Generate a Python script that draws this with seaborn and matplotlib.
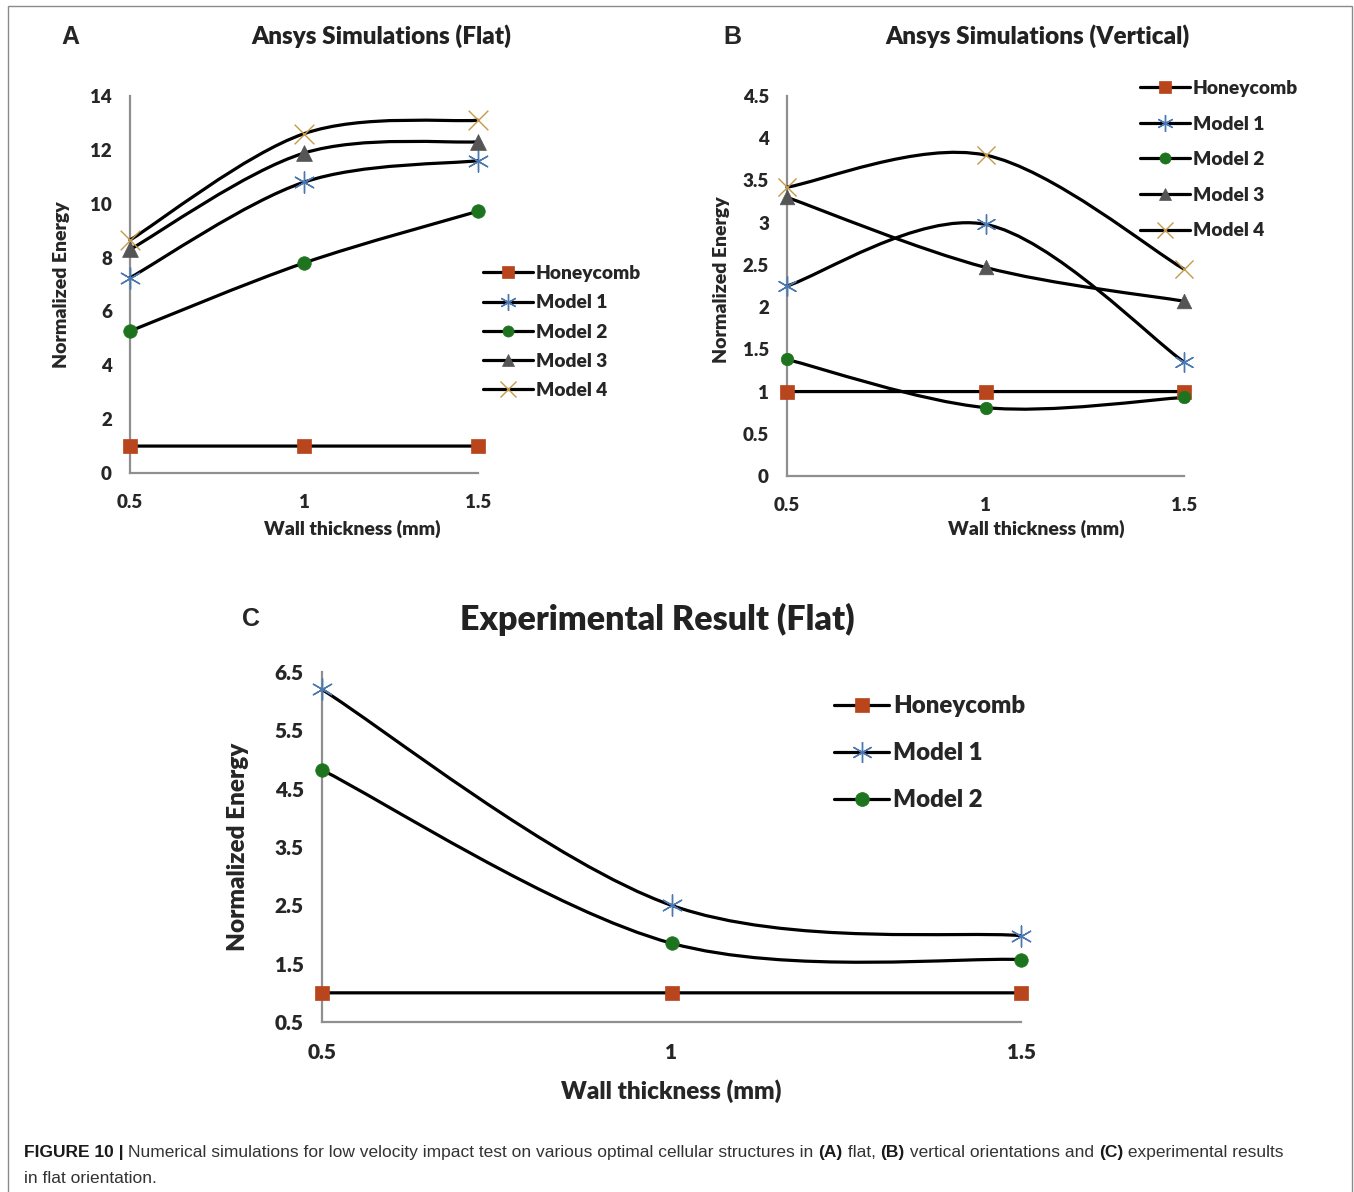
import numpy as np
import matplotlib
matplotlib.use("Agg")
import matplotlib.pyplot as plt
import seaborn as sns
from matplotlib.path import Path
from matplotlib.patches import PathPatch, Rectangle
from matplotlib.lines import Line2D

sns.set_theme(style="white")
plt.rcParams['font.family'] = ['Lato', 'DejaVu Sans']

# --- data ---
thickness = [0.5, 1.0, 1.5]
thickness_labels = ['0.5', '1', '1.5']

flat_honeycomb = [1.0, 1.0, 1.0]
flat_model1 = [7.25, 10.8, 11.6]
flat_model2 = [5.27, 7.8, 9.72]
flat_model3 = [8.3, 11.88, 12.3]
flat_model4 = [8.65, 12.6, 13.1]

vert_honeycomb = [1.0, 1.0, 1.0]
vert_model1 = [2.25, 2.98, 1.35]
vert_model2 = [1.38, 0.81, 0.93]
vert_model3 = [3.3, 2.47, 2.07]
vert_model4 = [3.42, 3.8, 2.45]

exp_honeycomb = [1.0, 1.0, 1.0]
exp_model1 = [6.2, 2.5, 1.98]
exp_model2 = [4.82, 1.85, 1.57]

flat_yticks = [0, 2, 4, 6, 8, 10, 12, 14]
vert_yticks = [0, 0.5, 1, 1.5, 2, 2.5, 3, 3.5, 4, 4.5]
vert_ylabels = ['0', '0.5', '1', '1.5', '2', '2.5', '3', '3.5', '4', '4.5']
exp_yticks = [0.5, 1.5, 2.5, 3.5, 4.5, 5.5, 6.5]

BOLD = 'heavy'

# series look: name -> (marker, color, size, filled)
STYLE = {
    'Honeycomb': ('s', '#B8451C', 115, True),
    'Model 1': ((6, 2, 0), '#4A78B0', 230, False),
    'Model 2': ('o', '#1E741E', 95, True),
    'Model 3': ('^', '#555555', 130, True),
    'Model 4': ('x', '#C49A4A', 200, False),
}


def smooth_path(xs, ys):
    # excel style smoothed line (bezier, catmull-rom tangents)
    pts = np.column_stack([xs, ys]).astype(float)
    n = len(pts)
    verts = [pts[0]]
    codes = [Path.MOVETO]
    for i in range(n - 1):
        p0 = pts[i - 1] if i > 0 else pts[i]
        p1, p2 = pts[i], pts[i + 1]
        p3 = pts[i + 2] if i + 2 < n else pts[i + 1]
        verts += [p1 + (p2 - p0) / 6, p2 - (p3 - p1) / 6, p2]
        codes += [Path.CURVE4] * 3
    return Path(verts, codes)


def draw_panel(ax, series, yticks, ylabels, tick_fs, lab_fs, xlab_xy, ylab_xy, msize=1.0, lw=2.3):
    for name, ys in series:
        ax.add_patch(PathPatch(smooth_path(thickness, ys), facecolor='none',
                               edgecolor='black', lw=lw, capstyle='round', zorder=3, clip_on=False))
    for name, ys in series:
        m, c, s, filled = STYLE[name]
        if filled:
            sns.scatterplot(x=thickness, y=ys, ax=ax, marker=m, color=c, s=s * msize,
                            edgecolor=c, linewidth=0.5, zorder=4, clip_on=False)
        else:
            sns.scatterplot(x=thickness, y=ys, ax=ax, marker=m, color=c, s=s * msize,
                            linewidth=1.0, zorder=4, clip_on=False)
    ax.set_xlim(0.5, 1.5)
    ax.set_ylim(yticks[0], yticks[-1])
    ax.set_xticks(thickness)
    ax.set_xticklabels(thickness_labels, fontsize=tick_fs, fontweight=BOLD)
    ax.set_yticks(yticks)
    ax.set_yticklabels(ylabels, fontsize=tick_fs, fontweight=BOLD)
    ax.tick_params(axis='both', length=0)
    ax.tick_params(axis='y', pad=13)
    ax.tick_params(axis='x', pad=15)
    for side in ['top', 'right']:
        ax.spines[side].set_visible(False)
    for side in ['left', 'bottom']:
        ax.spines[side].set_color('#8f8f8f')
        ax.spines[side].set_linewidth(1.6)
    ax.set_xlabel('Wall thickness (mm)', fontsize=lab_fs, fontweight=BOLD)
    ax.set_ylabel('Normalized Energy', fontsize=lab_fs, fontweight=BOLD)
    ax.xaxis.set_label_coords(*xlab_xy)
    ax.yaxis.set_label_coords(*ylab_xy)
    ax.set_facecolor('white')


def add_legend(fig, names, anchor, fs, spacing, hlen, msize):
    handles = []
    for name in names:
        m, c, s, filled = STYLE[name]
        ms = msize * 1.5 if name in ('Model 1', 'Model 4') else msize
        handles.append(Line2D([], [], color='black', lw=2.3, marker=m, markersize=ms,
                              markerfacecolor=c, markeredgecolor=c,
                              markeredgewidth=1.0 if not filled else 0.5))
    fig.legend(handles, names, loc='upper left', bbox_to_anchor=anchor,
               bbox_transform=fig.transFigure, frameon=False, borderpad=0, borderaxespad=0,
               handlelength=hlen, handletextpad=0.15, labelspacing=spacing,
               prop={'family': 'Lato', 'weight': BOLD, 'size': fs})


W, H = 1354, 1192
fig = plt.figure(figsize=(W / 100, H / 100), dpi=100)
fig.patch.set_facecolor('white')

# outer frame
fig.add_artist(Rectangle((8 / W, -0.05), 1344 / W, 1.05 - 6 / H, transform=fig.transFigure,
                         fill=False, edgecolor='#8a8a8a', lw=1.0))

# --- A ---
axA = fig.add_axes([130 / W, 1 - 473 / H, 348 / W, 377 / H])
draw_panel(axA, [('Honeycomb', flat_honeycomb), ('Model 1', flat_model1), ('Model 2', flat_model2),
                 ('Model 3', flat_model3), ('Model 4', flat_model4)],
           flat_yticks, [str(v) for v in flat_yticks], 13.5, 14, (0.638, -0.125), (-0.172, 0.5))
add_legend(fig, ['Honeycomb', 'Model 1', 'Model 2', 'Model 3', 'Model 4'],
           (483 / W, 1 - 265 / H), 13.8, 0.64, 2.6, 8)
fig.text(381 / W, 1 - 36 / H, 'Ansys Simulations (Flat)', ha='center', va='center',
         fontsize=17.5, fontweight=BOLD, color='#222222')
fig.text(70 / W, 1 - 37 / H, 'A', ha='center', va='center', fontsize=18,
         fontweight='bold', family='Liberation Sans')

# --- B ---
axB = fig.add_axes([787 / W, 1 - 476 / H, 397 / W, 380 / H])
draw_panel(axB, [('Honeycomb', vert_honeycomb), ('Model 1', vert_model1), ('Model 2', vert_model2),
                 ('Model 3', vert_model3), ('Model 4', vert_model4)],
           vert_yticks, vert_ylabels, 13.5, 14, (0.627, -0.115), (-0.144, 0.518), msize=0.85)
add_legend(fig, ['Honeycomb', 'Model 1', 'Model 2', 'Model 3', 'Model 4'],
           (1140 / W, 1 - 80 / H), 13.8, 0.97, 2.6, 8)
fig.text(1037 / W, 1 - 36 / H, 'Ansys Simulations (Vertical)', ha='center', va='center',
         fontsize=17.5, fontweight=BOLD, color='#222222')
fig.text(732 / W, 1 - 37 / H, 'B', ha='center', va='center', fontsize=18,
         fontweight='bold', family='Liberation Sans')

# --- C ---
axC = fig.add_axes([322 / W, 1 - 1022 / H, 699 / W, 350 / H])
draw_panel(axC, [('Honeycomb', exp_honeycomb), ('Model 1', exp_model1), ('Model 2', exp_model2)],
           exp_yticks, [str(v) for v in exp_yticks], 15, 17.5, (0.5, -0.163), (-0.104, 0.5))
add_legend(fig, ['Honeycomb', 'Model 1', 'Model 2'],
           (834 / W, 1 - 695 / H), 17.3, 1.05, 2.3, 10)
fig.text(657 / W, 1 - 619 / H, 'Experimental Result (Flat)', ha='center', va='center',
         fontsize=24.5, fontweight=BOLD, color='#222222')
fig.text(251 / W, 1 - 619 / H, 'C', ha='center', va='center', fontsize=18,
         fontweight='bold', family='Liberation Sans')

# --- caption (runs of bold / regular text) ---
cap_font = ['Liberation Sans', 'DejaVu Sans']
runs = [('FIGURE 10 | ', 'bold'),
        ('Numerical simulations for low velocity impact test on various optimal cellular structures in ', 'normal'),
        ('(A)', 'bold'), (' flat, ', 'normal'), ('(B)', 'bold'),
        (' vertical orientations and ', 'normal'), ('(C)', 'bold'),
        (' experimental results', 'normal')]
fig.canvas.draw()
renderer = fig.canvas.get_renderer()
x = 24
for txt, wt in runs:
    t = fig.text(x / W, 1 - 1157 / H, txt, ha='left', va='baseline', fontsize=12.5,
                 fontweight=wt, family=cap_font, color='#1a1a1a' if wt == 'bold' else '#333333')
    x = t.get_window_extent(renderer).x1
fig.text(24 / W, 1 - 1183 / H, 'in flat orientation.', ha='left', va='baseline',
         fontsize=12.5, family=cap_font, color='#333333')

fig.savefig('out.png', dpi=100, facecolor='white')
